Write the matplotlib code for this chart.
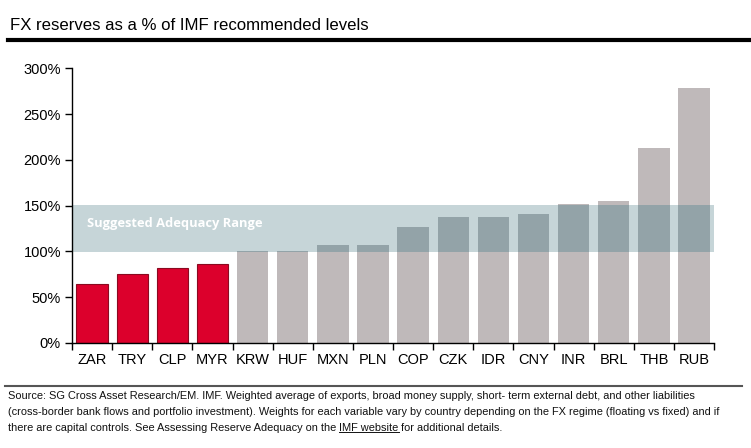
import numpy as np
import matplotlib
matplotlib.use('Agg')
import matplotlib.pyplot as plt

countries = ['ZAR', 'TRY', 'CLP', 'MYR', 'KRW', 'HUF', 'MXN', 'PLN',
             'COP', 'CZK', 'IDR', 'CNY', 'INR', 'BRL', 'THB', 'RUB']
reserves = [64, 75, 82, 86, 101, 101, 107, 107,
            127, 138, 138, 141, 152, 155, 213, 278]
below_range = [True] * 4 + [False] * 12
range_lo, range_hi = 99, 151
yticks = [0, 50, 100, 150, 200, 250, 300]

plt.rcParams['font.family'] = ['Liberation Sans', 'DejaVu Sans']

fig = plt.figure(figsize=(7.51, 4.48), dpi=100)
ax = fig.add_axes([0.0959, 0.2344, 0.855, 0.6131])

x = np.arange(len(countries))
vals = np.array(reserves)
red = np.array(below_range)

ax.axhspan(range_lo, range_hi, color='#c6d5d8', zorder=1, lw=0)
ax.bar(x[red], vals[red], width=0.78, color='#dc002c', edgecolor='#8a0a20', lw=0.8, zorder=2)
ax.bar(x[~red], vals[~red], width=0.78, color='#bfb9ba', lw=0, zorder=2)
# part of the gray bars that sits inside the adequacy band
top = np.clip(vals[~red], range_lo, range_hi)
ax.bar(x[~red], top - range_lo, bottom=range_lo, width=0.78, color='#93a3a8', lw=0, zorder=3)

ax.text(-0.12, 131, 'Suggested Adequacy Range', color='white', fontsize=9.3,
        fontweight='bold', family=['Open Sans', 'DejaVu Sans'], va='center', ha='left', zorder=4)

ax.set_xlim(-0.5, len(countries) - 0.5)
ax.set_ylim(0, 300)
ax.set_yticks(yticks)
ax.set_yticklabels([f'{v}%' for v in yticks], fontsize=10.5)
ax.set_xticks(x)
ax.set_xticklabels(countries, fontsize=10.5)
ax.set_xticks(np.arange(len(countries) + 1) - 0.5, minor=True)
ax.tick_params(axis='x', which='major', length=0, pad=7)
ax.tick_params(axis='x', which='minor', length=5, direction='out', width=1)
ax.tick_params(axis='y', length=5, width=1, pad=3)
for s in ['top', 'right']:
    ax.spines[s].set_visible(False)
for s in ['left', 'bottom']:
    ax.spines[s].set_linewidth(1)

fig.text(10 / 751, 1 - 26 / 448, 'FX reserves as a % of IMF recommended levels',
         fontsize=12.1, va='center', ha='left')
fig.add_artist(plt.Line2D([8 / 751, 1], [1 - 40 / 448] * 2, color='black', lw=3))
fig.add_artist(plt.Line2D([5 / 751, 742 / 751], [1 - 386 / 448] * 2, color='#555555', lw=1.5))

foot = dict(fontsize=7.9, va='center', ha='left', color='#111111')
fig.text(8 / 751, 1 - 396 / 448, 'Source: SG Cross Asset Research/EM. IMF. Weighted average of exports, broad money supply, '
         'short- term external debt, and other liabilities', **foot)
fig.text(8 / 751, 1 - 412 / 448, '(cross-border bank flows and portfolio investment). Weights for each variable vary by '
         'country depending on the FX regime (floating vs fixed) and if', **foot)
t1 = fig.text(8 / 751, 1 - 428 / 448, 'there are capital controls. See Assessing Reserve Adequacy on the ', **foot)
fig.canvas.draw()
r = fig.canvas.get_renderer()
bb = t1.get_window_extent(r)
t2 = fig.text(bb.x1 / fig.bbox.width, 1 - 428 / 448, 'IMF website', **foot)
bb2 = t2.get_window_extent(r)
fig.text(bb2.x1 / fig.bbox.width, 1 - 428 / 448, ' for additional details.', **foot)
fig.add_artist(plt.Line2D([bb2.x0 / fig.bbox.width, bb2.x1 / fig.bbox.width],
                          [(bb2.y0 + 1) / fig.bbox.height] * 2, color='#111111', lw=0.7))

fig.savefig('out.png', dpi=100)
